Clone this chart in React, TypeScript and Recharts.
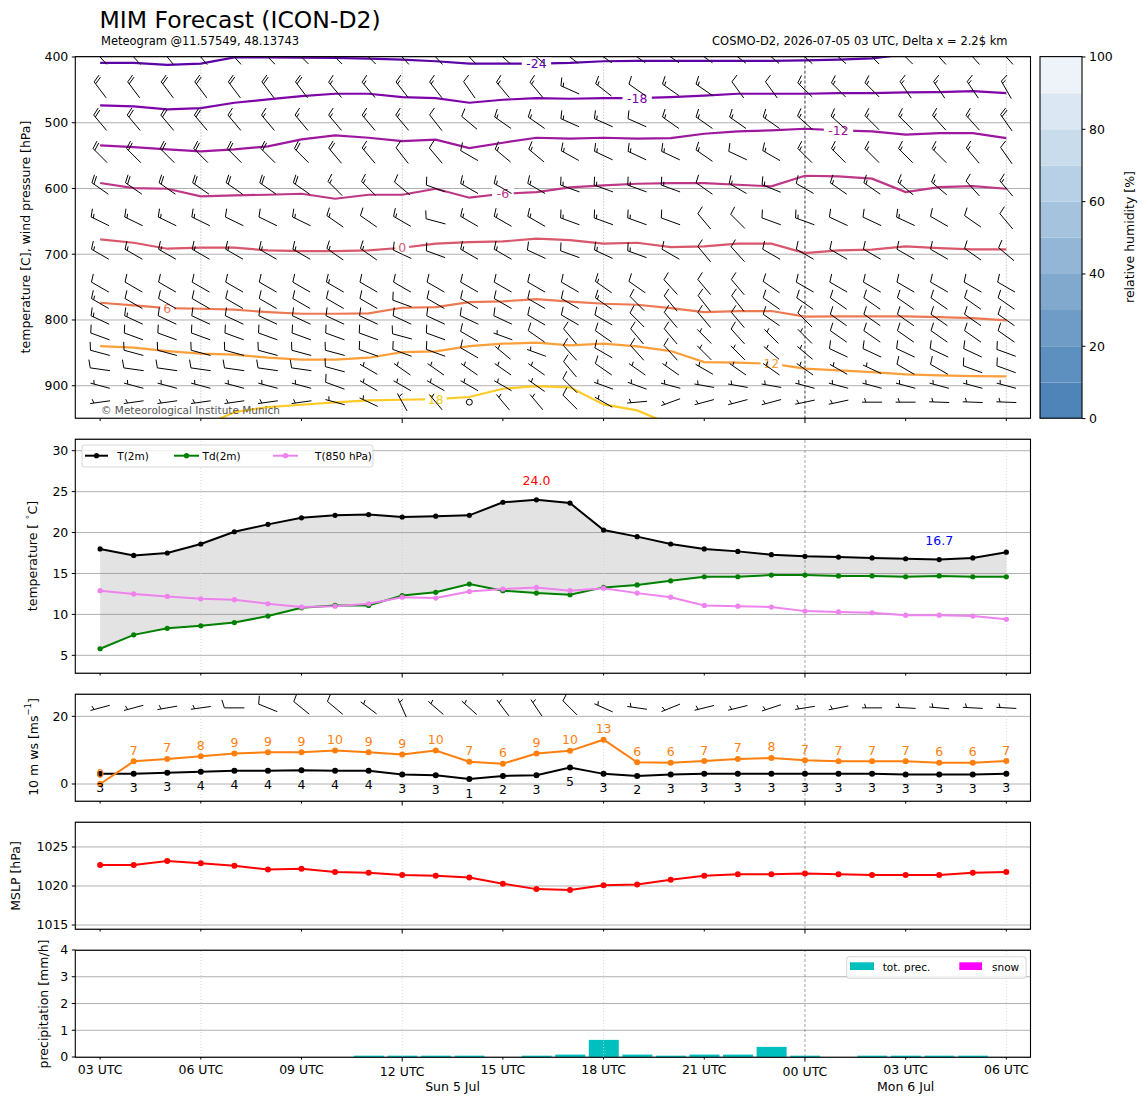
import React from "react"
import {
  ComposedChart,
  BarChart,
  Line,
  Area,
  Bar,
  Scatter,
  XAxis,
  YAxis,
  CartesianGrid,
  ReferenceLine,
  LabelList,
} from "recharts"

const FONT = "'DejaVu Sans', Verdana, sans-serif"

// time axis: hours since Sun 5 Jul 03 UTC
const HOURS = [0, 1, 2, 3, 4, 5, 6, 7, 8, 9, 10, 11, 12, 13, 14, 15, 16, 17, 18, 19, 20, 21, 22, 23, 24, 25, 26, 27]
const X_TICKS = [0, 3, 6, 9, 12, 15, 18, 21, 24, 27]
const X_TICK_LABELS = ["03 UTC", "06 UTC", "09 UTC", "12 UTC", "15 UTC", "18 UTC", "21 UTC", "00 UTC", "03 UTC", "06 UTC"]
const MAJOR_TICKS = [9, 21]
const DAY_LABELS = ["Sun 5 Jul", "Mon 6 Jul"]
const DAY_LABEL_HOURS = [10.5, 24]
const DOTTED_HOURS = [3, 9, 15, 27]
const MIDNIGHT_HOUR = 21

// surface temperatures
const T2M = [18.0, 17.2, 17.5, 18.6, 20.1, 21.0, 21.8, 22.1, 22.2, 21.9, 22.0, 22.1, 23.7, 24.0, 23.6, 20.3, 19.5, 18.6, 18.0, 17.7, 17.3, 17.1, 17.0, 16.9, 16.8, 16.7, 16.9, 17.6]
const TD2M = [5.8, 7.5, 8.3, 8.6, 9.0, 9.8, 10.8, 11.1, 11.1, 12.3, 12.7, 13.7, 12.9, 12.6, 12.4, 13.3, 13.6, 14.1, 14.6, 14.6, 14.8, 14.8, 14.7, 14.7, 14.6, 14.7, 14.6, 14.6]
const T850 = [12.9, 12.5, 12.2, 11.9, 11.8, 11.3, 10.9, 11.0, 11.3, 12.1, 12.0, 12.8, 13.1, 13.3, 12.9, 13.2, 12.6, 12.1, 11.1, 11.0, 10.9, 10.4, 10.3, 10.2, 9.9, 9.9, 9.8, 9.4]

// 10 m wind [m/s]
const WS10 = [3.0, 3.0, 3.3, 3.6, 3.9, 3.9, 4.1, 3.9, 3.9, 2.8, 2.6, 1.45, 2.4, 2.6, 4.9, 3.0, 2.4, 2.8, 3.0, 3.0, 3.0, 3.0, 3.0, 3.0, 2.8, 2.8, 2.8, 3.0]
const GUST10 = [0.0, 6.7, 7.4, 8.2, 9.0, 9.4, 9.4, 9.9, 9.4, 8.7, 9.9, 6.6, 6.0, 9.0, 9.8, 13.1, 6.4, 6.3, 6.8, 7.4, 7.7, 7.0, 6.7, 6.7, 6.7, 6.3, 6.3, 6.8]
const W10_DIR = [255, 255, 260, 262, 270, 292, 309, 310, 307, 336, 311, 312, 323, 326, 315, 294, 278, 248, 256, 256, 252, 261, 259, 270, 273, 275, 273, 273]
const W10_KT = [5, 5, 5, 5, 10, 10, 10, 10, 5, 5, 5, 5, 5, 5, 10, 5, 5, 5, 5, 5, 5, 5, 5, 5, 5, 5, 5, 5]
const W10_BARB_ROW = 22.5

const MSLP = [1022.7, 1022.7, 1023.2, 1022.9, 1022.6, 1022.1, 1022.2, 1021.8, 1021.7, 1021.4, 1021.3, 1021.1, 1020.3, 1019.6, 1019.5, 1020.1, 1020.2, 1020.8, 1021.3, 1021.5, 1021.5, 1021.6, 1021.5, 1021.4, 1021.4, 1021.4, 1021.7, 1021.8]

const PRECIP = [0, 0, 0, 0, 0, 0, 0, 0, 0.05, 0.05, 0.05, 0.05, 0, 0.05, 0.09, 0.64, 0.09, 0.05, 0.09, 0.09, 0.38, 0.05, 0, 0.05, 0.05, 0.05, 0.05, 0]
const SNOW = [0, 0, 0, 0, 0, 0, 0, 0, 0, 0, 0, 0, 0, 0, 0, 0, 0, 0, 0, 0, 0, 0, 0, 0, 0, 0, 0, 0]

// isotherms: pressure [hPa] of each temperature level per hour
const ISO_M24 = [409, 409, 412, 410, 400.5, 400.5, 401, 401.5, 402.5, 404, 406.5, 410, 410, 410, 409, 406.5, 406, 406, 406, 406, 406, 405, 404, 402, 396, 395, 395, 396]
const ISO_M18 = [473.6, 475.1, 479.7, 477.7, 469.6, 464.5, 459.4, 455.9, 455.9, 460.9, 462.5, 469.6, 465, 462.5, 463.5, 462.5, 462.5, 460.9, 458.9, 455.9, 455.9, 455.9, 454.9, 454.9, 453.8, 453.3, 451.8, 454.9]
const ISO_M12 = [534.5, 537, 540.5, 543.6, 540.5, 536, 525.3, 519.2, 522.8, 527.9, 525.8, 538.5, 530.4, 522.8, 524.3, 522.8, 524.3, 523.3, 516.7, 513.2, 511.6, 509.1, 511.6, 513.2, 518.2, 515.7, 515.7, 523.3]
const ISO_M6 = [591.7, 599.4, 600.4, 612, 610.5, 609.5, 608, 615.6, 609.5, 609.5, 600.4, 614, 608, 605.4, 598.3, 595.3, 592.8, 591.7, 591.7, 594.3, 596.8, 580.6, 581.6, 585.1, 605.4, 597.8, 596.3, 600.4]
const ISO_0 = [677.4, 682.5, 691.6, 690.1, 690.1, 694.2, 695.2, 695.2, 694.2, 690.1, 684, 681.5, 680.5, 676.4, 678.4, 684, 682.5, 689.1, 688.1, 684, 684, 698.2, 694.2, 693.1, 688.1, 690.6, 692.6, 692.6]
const ISO_6 = [773.8, 777.8, 781.9, 782.9, 784.4, 788, 790.5, 790.5, 790, 781.4, 780.4, 772.8, 771.7, 768.2, 772.2, 775.3, 776.8, 781.9, 788, 786.4, 786.4, 795, 794.5, 794.5, 794.5, 795.6, 797.1, 800.6]
const ISO_12 = [839.7, 842.2, 847.3, 851.3, 852.8, 857.4, 860.4, 860.4, 857.4, 848.8, 847.8, 839.7, 836.1, 834.6, 838.7, 836.1, 840.2, 847.3, 864, 865, 866.5, 874.1, 876.7, 879.2, 882.8, 884.3, 885.3, 885.8]
const ISO_18 = [null, null, null, 963, 940.1, 932.5, 928.9, 925.3, 922.3, 921.3, 920.3, 917.2, 904.6, 900.5, 902.5, 928.4, 937.5, 959, null, null, null, null, null, null, null, null, null, null]
const ISO_LEVELS = [-24, -18, -12, -6, 0, 6, 12, 18]
const ISO_COLORS = ["#5c01a6", "#7e03a8", "#9c179e", "#bd3786", "#d8576b", "#ed7953", "#fb9f3a", "#fdca26"]
const ISO_LABEL_HOURS = [13, 16, 22, 12, 9, 2, 20, 10]
const ISO_VALUES = [ISO_M24, ISO_M18, ISO_M12, ISO_M6, ISO_0, ISO_6, ISO_12, ISO_18]

// upper-air wind barbs: direction [deg] and speed [kt] per level and hour
const BARB_LEVELS = [400, 450, 500, 550, 600, 650, 700, 750, 775, 800, 825, 850, 875, 900, 925]
const BARB_DIR = [
  [318, 318, 320, 320, 318, 316, 315, 315, 315, 318, 318, 316, 312, 310, 308, 305, 305, 305, 305, 308, 310, 312, 312, 315, 315, 318, 318, 318],
  [323, 323, 323, 323, 323, 323, 323, 320, 320, 322, 322, 325, 320, 320, 294, 308, 305, 305, 305, 324, 324, 314, 315, 315, 326, 326, 326, 330],
  [320, 320, 320, 320, 320, 320, 320, 320, 320, 320, 322, 310, 305, 305, 294, 294, 294, 305, 305, 305, 305, 312, 312, 315, 315, 318, 318, 325],
  [315, 315, 315, 315, 315, 315, 315, 320, 320, 322, 320, 300, 310, 310, 299, 295, 295, 295, 305, 295, 300, 315, 315, 315, 315, 315, 320, 325],
  [305, 305, 305, 305, 305, 305, 305, 315, 315, 310, 290, 300, 300, 300, 290, 290, 290, 290, 305, 300, 292, 300, 305, 305, 310, 310, 318, 320],
  [296, 296, 296, 296, 296, 296, 296, 305, 305, 300, 285, 300, 300, 300, 290, 290, 290, 290, 320, 315, 290, 290, 295, 295, 295, 300, 305, 320],
  [300, 300, 300, 300, 300, 300, 300, 305, 305, 295, 290, 300, 300, 295, 290, 295, 290, 300, 320, 318, 300, 300, 300, 300, 300, 300, 305, 310],
  [300, 300, 300, 300, 300, 300, 300, 300, 300, 300, 300, 300, 300, 300, 300, 305, 305, 318, 320, 320, 305, 300, 300, 300, 300, 300, 300, 300],
  [300, 300, 300, 300, 300, 300, 300, 300, 300, 290, 300, 300, 300, 300, 300, 305, 315, 320, 322, 322, 305, 305, 305, 305, 305, 305, 305, 305],
  [295, 295, 295, 295, 295, 295, 295, 295, 295, 295, 295, 295, 295, 300, 300, 300, 315, 320, 320, 320, 305, 315, 305, 305, 305, 305, 305, 305],
  [290, 290, 290, 290, 290, 290, 290, 290, 290, 285, 290, 300, 290, 305, 320, 305, 320, 320, 315, 318, 315, 315, 305, 305, 305, 305, 305, 305],
  [285, 285, 285, 285, 285, 285, 285, 285, 290, 290, 290, 300, 310, 290, 318, 300, 318, 318, 315, 315, 310, 310, 295, 295, 295, 295, 295, 290],
  [278, 278, 278, 278, 278, 278, 278, 285, 300, 305, 305, 305, 305, 305, 320, 305, 305, 305, 300, 305, 305, 305, 300, 295, 300, 300, 290, 290],
  [285, 285, 285, 285, 285, 285, 285, 290, 300, 300, 300, 300, 300, 305, 315, 290, 290, 285, 280, 280, 280, 285, 285, 285, 285, 285, 285, 285],
  [262, 262, 262, 262, 262, 262, 262, 285, 295, 331, 320, 0, 320, 320, 315, 300, 265, 250, 255, 255, 255, 258, 258, 270, 270, 272, 272, 272],
]
const BARB_KT = [
  [20, 20, 20, 20, 20, 20, 20, 20, 20, 20, 20, 20, 20, 20, 20, 20, 20, 20, 20, 20, 20, 20, 20, 20, 20, 20, 20, 20],
  [20, 20, 20, 20, 20, 20, 20, 15, 15, 15, 15, 10, 15, 15, 15, 15, 10, 15, 15, 10, 10, 15, 15, 15, 15, 15, 15, 15],
  [20, 20, 20, 20, 15, 15, 15, 15, 15, 15, 10, 10, 15, 15, 15, 15, 10, 15, 15, 15, 15, 15, 15, 15, 15, 15, 15, 20],
  [20, 20, 20, 20, 20, 20, 20, 20, 15, 10, 10, 10, 15, 15, 15, 15, 15, 15, 15, 10, 15, 15, 15, 15, 15, 15, 15, 10],
  [20, 20, 20, 20, 20, 20, 20, 15, 15, 10, 10, 15, 15, 15, 15, 15, 15, 15, 10, 15, 15, 10, 15, 15, 15, 15, 10, 15],
  [15, 15, 15, 15, 10, 10, 15, 15, 10, 15, 10, 15, 15, 15, 15, 15, 15, 10, 10, 10, 10, 15, 10, 10, 15, 10, 10, 10],
  [15, 15, 15, 15, 15, 15, 15, 15, 15, 10, 10, 15, 15, 10, 10, 15, 15, 10, 10, 10, 10, 10, 10, 10, 10, 10, 10, 10],
  [10, 10, 10, 10, 10, 10, 10, 15, 10, 10, 10, 10, 10, 10, 10, 15, 10, 10, 10, 10, 10, 10, 10, 10, 10, 10, 10, 10],
  [15, 10, 10, 10, 10, 10, 10, 10, 10, 10, 10, 10, 10, 10, 10, 15, 10, 10, 10, 10, 10, 10, 10, 10, 10, 10, 10, 10],
  [15, 15, 10, 10, 10, 10, 10, 10, 10, 10, 10, 10, 10, 10, 10, 10, 10, 10, 10, 10, 10, 10, 10, 10, 10, 10, 10, 10],
  [10, 10, 10, 10, 10, 10, 10, 10, 10, 10, 10, 10, 5, 10, 10, 10, 10, 10, 5, 10, 5, 5, 10, 10, 10, 10, 10, 10],
  [10, 10, 10, 10, 10, 10, 10, 10, 10, 10, 10, 10, 5, 5, 10, 10, 10, 10, 5, 5, 5, 5, 10, 10, 10, 10, 10, 10],
  [10, 10, 10, 10, 10, 10, 10, 10, 5, 5, 5, 5, 5, 5, 10, 10, 5, 5, 5, 5, 5, 5, 5, 5, 10, 10, 10, 10],
  [5, 5, 5, 5, 5, 5, 5, 10, 5, 5, 5, 5, 5, 5, 10, 5, 5, 5, 5, 5, 5, 5, 5, 5, 5, 5, 5, 5],
  [5, 5, 5, 5, 5, 5, 5, 5, 5, 5, 5, 0, 5, 5, 10, 5, 5, 5, 5, 5, 5, 5, 5, 5, 5, 5, 5, 5],
]

// relative humidity colour bar
const RH_BANDS = [10, 10, 10, 10, 10, 10, 10, 10, 10, 10]
const RH_COLORS = ["#4e84b7", "#5e90bf", "#6f9cc6", "#81a9ce", "#93b6d6", "#a5c3dd", "#b7d0e5", "#c9dcec", "#dbe7f3", "#edf3f9"]
const RH_TICKS = [0, 20, 40, 60, 80, 100]

// layout
const PAGE_W = 1148
const PAGE_H = 1105
const PLOT_LEFT = 75.3
const PLOT_RIGHT = 1030.5
const PAD = 10
const AXIS_H = 30
const X_DOMAIN = [-0.74, 27.72]
const UPPER = { top: 56.6, bottom: 418.2 }
const TEMP = { top: 439.3, bottom: 673.3 }
const WIND = { top: 694.3, bottom: 801.3 }
const PRES = { top: 822.3, bottom: 929.3 }
const RAIN = { top: 950.3, bottom: 1057.3 }
const CBAR = { left: 1040, right: 1082 }

const xPix = (h: number) => PLOT_LEFT + ((h - X_DOMAIN[0]) / (X_DOMAIN[1] - X_DOMAIN[0])) * (PLOT_RIGHT - PLOT_LEFT)

function barbPath(cx: number, cy: number, dir: number, kt: number) {
  const L = 20
  const a = (dir * Math.PI) / 180
  const tx = Math.sin(a)
  const ty = -Math.cos(a)
  const px = -ty
  const py = tx
  const bx = cx - (tx * L) / 2
  const by = cy - (ty * L) / 2
  const ex = cx + (tx * L) / 2
  const ey = cy + (ty * L) / 2
  let v = Math.round(kt / 5) * 5
  const full = Math.floor(v / 10)
  v -= full * 10
  const half = v >= 5
  const H = 0.4 * L
  const W = 0.25 * L
  const S = 0.125 * L
  let d = `M${bx},${by}L${ex},${ey}`
  let o = 0
  for (let i = 0; i < full; i++) {
    const sx = ex - tx * o
    const sy = ey - ty * o
    d += `M${sx},${sy}L${sx + px * H + (tx * W) / 2},${sy + py * H + (ty * W) / 2}`
    o += S
  }
  if (half) {
    if (full === 0) o = 1.5 * S
    const sx = ex - tx * o
    const sy = ey - ty * o
    d += `M${sx},${sy}L${sx + (px * H) / 2 + (tx * W) / 4},${sy + (py * H) / 2 + (ty * W) / 4}`
  }
  return d
}

function Barb(props: any) {
  const { cx, cy, payload } = props
  if (cx == null || cy == null) return <g />
  if (Math.round(payload.kt / 5) === 0) {
    return <circle cx={cx} cy={cy} r={3} fill="none" stroke="#000" strokeWidth={1} />
  }
  return <path d={barbPath(cx, cy, payload.dir, payload.kt)} fill="none" stroke="#000" strokeWidth={1} />
}

function XTick(props: any) {
  const { x, y, payload, showLabel } = props
  const v = payload?.value
  const major = MAJOR_TICKS.includes(v)
  const len = major ? 4.5 : 2.5
  return (
    <g>
      <line x1={x} x2={x} y1={y} y2={y + len} stroke="#000" strokeWidth={1} />
      {showLabel ? (
        <text x={x} y={y + (major ? 19.1 : 16.8)} textAnchor="middle" fontSize={12.5} fontFamily={FONT} fill="#000">
          {X_TICK_LABELS[X_TICKS.indexOf(v)]}
        </text>
      ) : null}
    </g>
  )
}

function chartBox(rect: { top: number; bottom: number }) {
  return {
    width: PAGE_W,
    height: rect.bottom - rect.top + PAD + AXIS_H,
    margin: { top: PAD, right: PAGE_W - PLOT_RIGHT, bottom: 0, left: 0 },
  }
}

function xAxis(showLabel: boolean) {
  return (
    <XAxis
      dataKey="h"
      type="number"
      domain={X_DOMAIN}
      ticks={X_TICKS}
      allowDataOverflow
      interval={0}
      axisLine={false}
      tickLine={false}
      tickSize={0}
      tickMargin={0}
      height={AXIS_H}
      tick={<XTick showLabel={showLabel} />}
    />
  )
}

function yAxis(domain: number[], ticks: number[], reversed = false) {
  return (
    <YAxis
      type="number"
      domain={domain}
      ticks={ticks}
      reversed={reversed}
      allowDataOverflow
      interval={0}
      width={PLOT_LEFT}
      axisLine={false}
      stroke="#000"
      tickLine={{ stroke: "#000" }}
      tickSize={3.5}
      tickMargin={3.5}
      tick={{ fontSize: 12.5, fill: "#000", fontFamily: FONT }}
    />
  )
}

function vLines(upper: boolean) {
  return [
    ...DOTTED_HOURS.map((h) => (
      <ReferenceLine key={"d" + h} x={h} stroke={upper ? "#9a9a9a" : "#d0d0d0"} strokeWidth={0.8} strokeDasharray="1 2" />
    )),
    <ReferenceLine key="mid" x={MIDNIGHT_HOUR} stroke={upper ? "#000" : "#8a8a8a"} strokeWidth={0.8} strokeDasharray="3 2" />,
  ]
}

const dotStyle = (c: string, r = 2.6) => ({ r, fill: c, stroke: c, strokeWidth: 0 })

export default function App() {
  const rows = HOURS.map((h, i) => {
    const row: Record<string, number | null> = {
      h,
      t2m: T2M[i],
      td2m: TD2M[i],
      t850: T850[i],
      ws: WS10[i],
      gust: GUST10[i],
      mslp: MSLP[i],
      prec: PRECIP[i],
      snow: SNOW[i],
    }
    ISO_VALUES.forEach((vals, k) => {
      row["iso" + k] = vals[i]
    })
    return row
  })

  const barbs = BARB_LEVELS.flatMap((p, r) =>
    HOURS.map((h, i) => ({ h, p, dir: BARB_DIR[r][i], kt: BARB_KT[r][i] }))
  )
  const barbs10 = HOURS.map((h, i) => ({ h, y: W10_BARB_ROW, dir: W10_DIR[i], kt: W10_KT[i] }))
  const isoLabels = ISO_LEVELS.map((lev, k) => ({
    h: ISO_LABEL_HOURS[k],
    p: ISO_VALUES[k][ISO_LABEL_HOURS[k]],
    text: String(lev),
    color: ISO_COLORS[k],
  }))

  const tMax = Math.max(...T2M)
  const tMin = Math.min(...T2M)
  const extremes = [
    { h: T2M.indexOf(tMax), v: tMax, color: "#ff0000" },
    { h: T2M.indexOf(tMin), v: tMin, color: "#0000ff" },
  ]

  const rhRow: Record<string, string | number> = { name: "rh" }
  RH_BANDS.forEach((b, i) => (rhRow["b" + i] = b))

  const upperBox = chartBox(UPPER)
  const tempBox = chartBox(TEMP)
  const windBox = chartBox(WIND)
  const presBox = chartBox(PRES)
  const rainBox = chartBox(RAIN)

  const panels = [UPPER, TEMP, WIND, PRES, RAIN]

  return (
    <div style={{ position: "absolute", left: 0, top: 0, width: PAGE_W, height: PAGE_H, background: "#fff", fontFamily: FONT }}>
      {/* upper air: isotherms and wind barbs */}
      <div style={{ position: "absolute", left: 0, top: UPPER.top - PAD }}>
        <ComposedChart {...upperBox} data={rows}>
          <CartesianGrid vertical={false} stroke="#b0b0b0" strokeWidth={1} />
          {xAxis(false)}
          {yAxis([400, 950], [400, 500, 600, 700, 800, 900], true)}
          {vLines(true)}
          {ISO_LEVELS.map((lev, k) => (
            <Line
              key={lev}
              dataKey={"iso" + k}
              stroke={ISO_COLORS[k]}
              strokeWidth={2.2}
              dot={false}
              activeDot={false}
              connectNulls={false}
              isAnimationActive={false}
            />
          ))}
          <Scatter
            data={isoLabels}
            dataKey="p"
            isAnimationActive={false}
            shape={(p: any) => {
              const w = p.payload.text.length * 7.8 + 6
              return (
                <g>
                  <rect x={p.cx - w / 2} y={p.cy - 7} width={w} height={14} fill="#fff" />
                  <text x={p.cx} y={p.cy} dy="0.36em" textAnchor="middle" fontSize={12.5} fontFamily={FONT} fill={p.payload.color}>
                    {p.payload.text}
                  </text>
                </g>
              )
            }}
          />
          <Scatter data={barbs} dataKey="p" isAnimationActive={false} shape={(p: any) => <Barb {...p} />} />
        </ComposedChart>
      </div>

      {/* relative humidity colour bar */}
      <div style={{ position: "absolute", left: CBAR.left, top: UPPER.top - PAD }}>
        <BarChart
          width={CBAR.right - CBAR.left + 68}
          height={UPPER.bottom - UPPER.top + 2 * PAD}
          data={[rhRow]}
          margin={{ top: PAD, right: 0, bottom: PAD, left: 0 }}
          barCategoryGap={0}
        >
          <XAxis dataKey="name" hide />
          <YAxis
            orientation="right"
            type="number"
            domain={[0, 100]}
            ticks={RH_TICKS}
            width={68}
            axisLine={false}
            stroke="#000"
            tickLine={{ stroke: "#000" }}
            tickSize={3.5}
            tickMargin={3.5}
            tick={{ fontSize: 12.5, fill: "#000", fontFamily: FONT }}
          />
          {RH_BANDS.map((b, i) => (
            <Bar key={i} dataKey={"b" + i} stackId="rh" fill={RH_COLORS[i]} isAnimationActive={false} />
          ))}
        </BarChart>
      </div>

      {/* 2 m temperatures */}
      <div style={{ position: "absolute", left: 0, top: TEMP.top - PAD }}>
        <ComposedChart {...tempBox} data={rows}>
          <CartesianGrid vertical={false} stroke="#b0b0b0" strokeWidth={1} />
          {xAxis(false)}
          {yAxis([2.84, 31.43], [5, 10, 15, 20, 25, 30])}
          {vLines(false)}
          <Area
            dataKey={(d: any) => [d.td2m, d.t2m]}
            stroke="none"
            fill="#7f7f7f"
            fillOpacity={0.22}
            isAnimationActive={false}
            activeDot={false}
          />
          <Line dataKey="t2m" stroke="#000" strokeWidth={2} dot={dotStyle("#000")} activeDot={false} isAnimationActive={false} />
          <Line dataKey="td2m" stroke="#008000" strokeWidth={2} dot={dotStyle("#008000")} activeDot={false} isAnimationActive={false} />
          <Line dataKey="t850" stroke="#ee82ee" strokeWidth={2} dot={dotStyle("#ee82ee")} activeDot={false} isAnimationActive={false} />
          <Scatter
            data={extremes}
            dataKey="v"
            isAnimationActive={false}
            shape={(p: any) => (
              <text x={p.cx} y={p.cy - 14.5} textAnchor="middle" fontSize={12.5} fontFamily={FONT} fill={p.payload.color}>
                {p.payload.v.toFixed(1)}
              </text>
            )}
          />
        </ComposedChart>
      </div>

      {/* 10 m wind */}
      <div style={{ position: "absolute", left: 0, top: WIND.top - PAD }}>
        <ComposedChart {...windBox} data={rows}>
          <CartesianGrid vertical={false} stroke="#b0b0b0" strokeWidth={1} />
          {xAxis(false)}
          {yAxis([-5.02, 26.6], [0, 20])}
          {vLines(false)}
          <Line dataKey="ws" stroke="#000" strokeWidth={2} dot={dotStyle("#000", 3)} activeDot={false} isAnimationActive={false}>
            <LabelList
              dataKey="ws"
              content={(p: any) => (
                <text x={p.x} y={p.y + 18.5} textAnchor="middle" fontSize={12.5} fontFamily={FONT} fill="#000">
                  {Math.round(p.value)}
                </text>
              )}
            />
          </Line>
          <Line dataKey="gust" stroke="#ff7f0e" strokeWidth={2} dot={dotStyle("#ff7f0e", 3)} activeDot={false} isAnimationActive={false}>
            <LabelList
              dataKey="gust"
              content={(p: any) => (
                <text x={p.x} y={p.y - 6.5} textAnchor="middle" fontSize={12.5} fontFamily={FONT} fill="#ff7f0e">
                  {Math.round(p.value)}
                </text>
              )}
            />
          </Line>
          <Scatter data={barbs10} dataKey="y" isAnimationActive={false} shape={(p: any) => <Barb {...p} />} />
        </ComposedChart>
      </div>

      {/* mean sea level pressure */}
      <div style={{ position: "absolute", left: 0, top: PRES.top - PAD }}>
        <ComposedChart {...presBox} data={rows}>
          <CartesianGrid vertical={false} stroke="#b0b0b0" strokeWidth={1} />
          {xAxis(false)}
          {yAxis([1014.49, 1028.2], [1015, 1020, 1025])}
          {vLines(false)}
          <Line dataKey="mslp" stroke="#ff0000" strokeWidth={2} dot={dotStyle("#ff0000", 3)} activeDot={false} isAnimationActive={false} />
        </ComposedChart>
      </div>

      {/* precipitation */}
      <div style={{ position: "absolute", left: 0, top: RAIN.top - PAD }}>
        <ComposedChart {...rainBox} data={rows}>
          <CartesianGrid vertical={false} stroke="#b0b0b0" strokeWidth={1} />
          {xAxis(true)}
          {yAxis([0, 4], [0, 1, 2, 3, 4])}
          {vLines(false)}
          <Bar dataKey="prec" stackId="p" fill="#00bfbf" barSize={30} isAnimationActive={false} />
          <Bar dataKey="snow" stackId="p" fill="#ff00ff" barSize={30} isAnimationActive={false} />
        </ComposedChart>
      </div>

      {/* titles, frames, axis labels, legends */}
      <svg width={PAGE_W} height={PAGE_H} style={{ position: "absolute", left: 0, top: 0, pointerEvents: "none" }} fontFamily={FONT}>
        {panels.map((r, i) => (
          <rect key={i} x={PLOT_LEFT} y={r.top} width={PLOT_RIGHT - PLOT_LEFT} height={r.bottom - r.top} fill="none" stroke="#000" strokeWidth={1.1} />
        ))}
        <rect x={CBAR.left} y={UPPER.top} width={CBAR.right - CBAR.left} height={UPPER.bottom - UPPER.top} fill="none" stroke="#000" strokeWidth={1.1} />

        <text x={99.5} y={28.3} fontSize={23.5} fill="#000">MIM Forecast (ICON-D2)</text>
        <text x={101} y={45} fontSize={11.5} fill="#000">Meteogram @11.57549, 48.13743</text>
        <text x={1007.5} y={45} fontSize={11.5} fill="#000" textAnchor="end">COSMO-D2, 2026-07-05 03 UTC, Delta x = 2.2$ km</text>
        <text x={101} y={414} fontSize={10.5} fill="#555">© Meteorological Institute Munich</text>

        <text transform="translate(25,237) rotate(-90)" textAnchor="middle" dominantBaseline="central" fontSize={12.5}>
          temperature [C], wind pressure [hPa]
        </text>
        <text transform="translate(32,556) rotate(-90)" textAnchor="middle" dominantBaseline="central" fontSize={12.5}>
          <tspan>temperature [ </tspan>
          <tspan dy={-5} fontSize={8.5}>∘</tspan>
          <tspan dy={5}>C]</tspan>
        </text>
        <text transform="translate(33,747) rotate(-90)" textAnchor="middle" dominantBaseline="central" fontSize={12.5}>
          <tspan>10 m ws [ms</tspan>
          <tspan dy={-5} fontSize={8.5}>−1</tspan>
          <tspan dy={5}>]</tspan>
        </text>
        <text transform="translate(15,876) rotate(-90)" textAnchor="middle" dominantBaseline="central" fontSize={12.5}>
          MSLP [hPa]
        </text>
        <text transform="translate(43,1004) rotate(-90)" textAnchor="middle" dominantBaseline="central" fontSize={12.5}>
          precipitation [mm/h]
        </text>
        <text transform="translate(1129,237) rotate(-90)" textAnchor="middle" dominantBaseline="central" fontSize={12.5}>
          relative humidity [%]
        </text>

        {DAY_LABELS.map((t, i) => (
          <text key={t} x={xPix(DAY_LABEL_HOURS[i])} y={1091} textAnchor="middle" fontSize={12.5}>
            {t}
          </text>
        ))}

        {/* temperature legend */}
        <rect x={82} y={445} width={291} height={22} rx={2.5} fill="#fff" fillOpacity={0.8} stroke="#cccccc" strokeWidth={0.8} />
        <line x1={85} x2={108} y1={455.7} y2={455.7} stroke="#000" strokeWidth={2} />
        <circle cx={96.5} cy={455.7} r={2.6} fill="#000" />
        <text x={117.3} y={459.5} fontSize={10.5}>T(2m)</text>
        <line x1={174} x2={199} y1={455.7} y2={455.7} stroke="#008000" strokeWidth={2} />
        <circle cx={186.5} cy={455.7} r={2.6} fill="#008000" />
        <text x={202.5} y={459.5} fontSize={10.5}>Td(2m)</text>
        <line x1={273} x2={298} y1={455.7} y2={455.7} stroke="#ee82ee" strokeWidth={2} />
        <circle cx={285.5} cy={455.7} r={2.6} fill="#ee82ee" />
        <text x={315} y={459.5} fontSize={10.5}>T(850 hPa)</text>

        {/* precipitation legend */}
        <rect x={846.7} y={956.7} width={179.3} height={21.6} rx={2.5} fill="#fff" fillOpacity={0.8} stroke="#cccccc" strokeWidth={0.8} />
        <rect x={850} y={962.3} width={24} height={7.7} fill="#00bfbf" />
        <text x={882.7} y={971} fontSize={10.5}>tot. prec.</text>
        <rect x={959.3} y={962.3} width={22.7} height={7.7} fill="#ff00ff" />
        <text x={992} y={971} fontSize={10.5}>snow</text>
      </svg>
    </div>
  )
}
